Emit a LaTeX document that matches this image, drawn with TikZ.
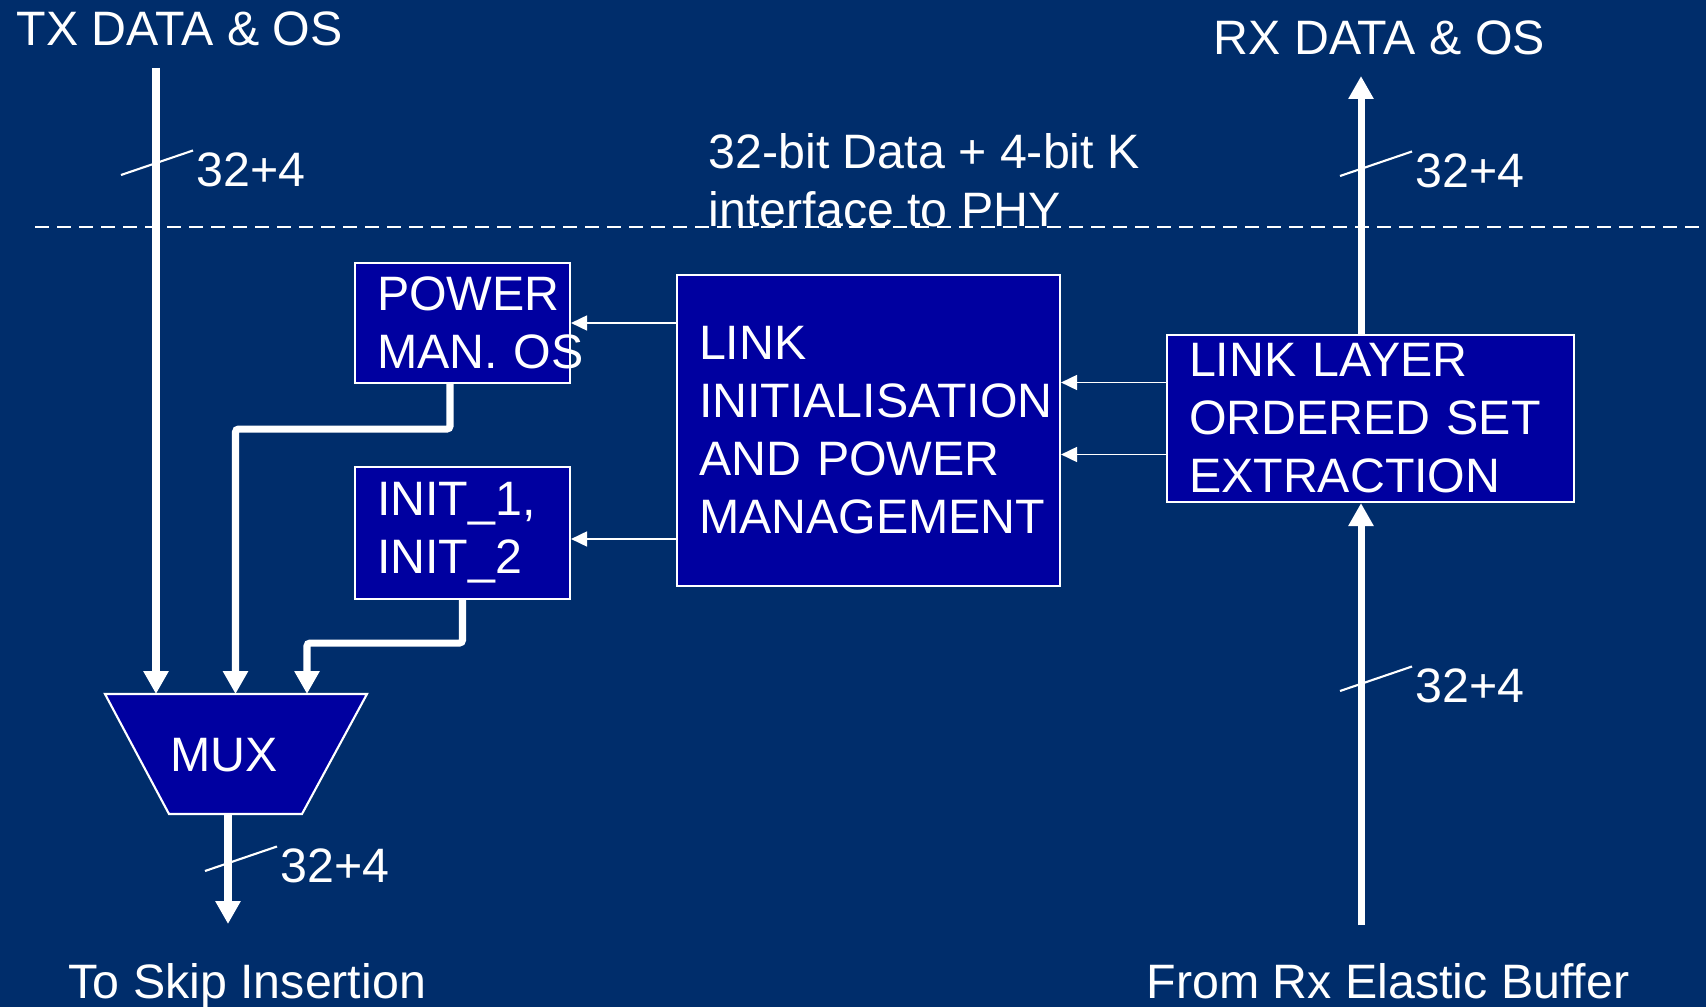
\documentclass[tikz,border=0pt]{standalone}
\usepackage{fontspec}
\setmainfont{Liberation Sans}
\usepackage{xcolor}
\usetikzlibrary{arrows.meta,calc,positioning}
\definecolor{slidebg}{RGB}{0,45,107}
\definecolor{boxblue}{RGB}{0,0,160}
\hyphenpenalty=10000

\begin{document}
\begin{tikzpicture}[
        every node/.style={text=white, inner sep=0pt, font=\fontsize{13.75}{16.5}\selectfont},
        blk/.style={draw=white, line width=0.6pt, fill=boxblue, rectangle, align=left, inner xsep=0.22cm},
        bus/.style={white, line width=2pt, -{Triangle[length=0.23cm,width=0.24cm]}},
        ctl/.style={white, line width=0.5pt, -{Triangle[length=0.16cm,width=0.15cm]}},
        buswidth/.style={white, line width=0.6pt}]
        \fill[slidebg] (0,0) rectangle (17.06,10.07);
        \useasboundingbox (0,0) rectangle (17.06,10.07);
        \draw[white, line width=0.55pt, dash pattern=on 0.14cm off 0.08cm] (0.35,7.80) -- (17.06,7.80);
        \node[anchor=base west] (txlabel) at (0.16,9.61) {TX DATA \& OS};
        \node[anchor=base west] (rxlabel) at (12.13,9.52) {RX DATA \& OS};
        \node[anchor=west, align=left] (phy) at (7.08,8.27) {32-bit Data + 4-bit K\\interface to PHY};
        \node[anchor=base west] (skiplabel) at (0.68,0.09) {To Skip Insertion};
        \node[anchor=base west] (buflabel) at (11.46,0.09) {From Rx Elastic Buffer};
        \node[blk, text width=1.71cm, minimum height=1.20cm] (pmos) at (4.625,6.84) {POWER\\MAN.~OS};
        \node[blk, text width=1.71cm, minimum height=1.32cm] (init) at (4.625,4.74) {INIT\_1,\\INIT\_2};
        \node[blk, text width=3.39cm, minimum height=3.11cm] (link) at (8.685,5.765) {LINK\\INITIALISATION\\AND POWER\\MANAGEMENT};
        \node[blk, text width=3.63cm, minimum height=1.67cm] (llose) at (13.705,5.885) {LINK LAYER\\ORDERED SET\\EXTRACTION};
        \coordinate (muxtl) at (1.05,3.13);
        \coordinate (muxtr) at (3.67,3.13);
        \coordinate (muxbr) at (3.02,1.93);
        \coordinate (muxbl) at (1.69,1.93);
        \draw[white, line width=0.6pt, fill=boxblue] (muxtl) -- (muxtr) -- (muxbr) -- (muxbl) -- cycle;
        \node (mux) at (2.24,2.52) {MUX};
        \coordinate (txin) at (1.56,9.39);
        \coordinate (skip) at (2.28,0.83);
        \coordinate (rxout) at (13.61,9.31);
        \coordinate (rxin) at (13.61,0.82);
        \draw[bus] (txin) -- (txin |- muxtl);
        \draw[bus, rounded corners=0.03cm] ([xshift=-1.25mm]pmos.south) -- ++(0,-0.45) -| (2.355,3.13);
        \draw[bus, rounded corners=0.03cm] (init.south) -- ++(0,-0.43) -| (3.07,3.13);
        \draw[bus] (skip |- muxbl) -- (skip);
        \draw[bus] (rxout |- llose.north) -- (rxout);
        \draw[bus] (rxin) -- (rxin |- llose.south);
        \draw[ctl] (link.west |- pmos.east) -- (pmos.east);
        \draw[ctl] ([yshift=-0.6mm]link.west |- init.east) -- ([yshift=-0.6mm]init.east);
        \draw[ctl] ([yshift=3.6mm]llose.west) -- ([yshift=3.6mm]link.east |- llose.west);
        \draw[ctl] ([yshift=-3.6mm]llose.west) -- ([yshift=-3.6mm]link.east |- llose.west);
        \foreach \x/\y [count=\i] in {1.21/8.32, 13.40/8.31, 13.40/3.16, 2.05/1.36} {
            \draw[buswidth] (\x,\y) -- ++(0.72,0.245);
            \node[anchor=base west] (width\i) at (\x+0.75,\y-0.115) {32+4};
        }
\end{tikzpicture}
\end{document}
